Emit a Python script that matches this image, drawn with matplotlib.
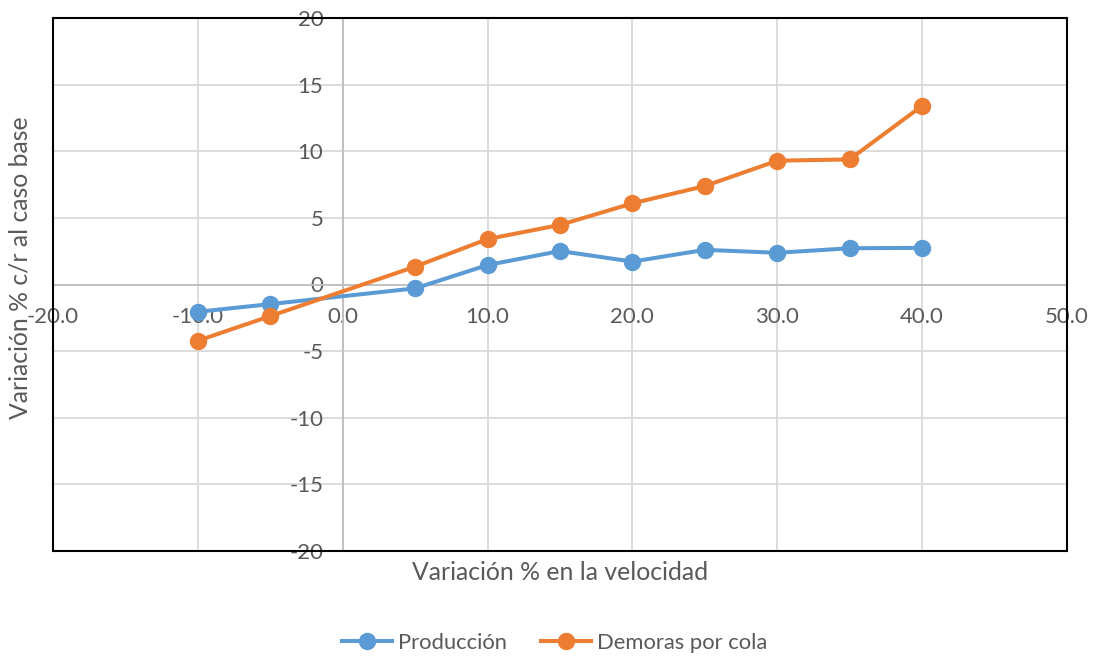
import matplotlib.pyplot as plt
from matplotlib.patches import Rectangle
from matplotlib.ticker import FormatStrFormatter, MultipleLocator

plt.rcParams['font.family'] = ['Lato', 'DejaVu Sans']
plt.rcParams['axes.unicode_minus'] = False

# datos
velocidad = [-10, -5, 5, 10, 15, 20, 25, 30, 35, 40]
produccion = [-2.05, -1.47, -0.29, 1.46, 2.51, 1.72, 2.6, 2.38, 2.72, 2.75]
demoras = [-4.22, -2.37, 1.34, 3.41, 4.47, 6.09, 7.39, 9.29, 9.39, 13.41]

azul = '#5B9BD5'
naranja = '#ED7D31'
gris_txt = '#595959'

fig = plt.figure(figsize=(10.95, 6.56), dpi=100)
ax = fig.add_axes([53/1095, 1 - 551/656, (1067-53)/1095, (551-18)/656])

ax.plot(velocidad, produccion, '-o', color=azul, lw=2.9, ms=11.5,
        label='Producción', zorder=3, clip_on=False)
ax.plot(velocidad, demoras, '-o', color=naranja, lw=2.9, ms=11.5,
        label='Demoras por cola', zorder=3, clip_on=False)

ax.set_xlim(-20, 50)
ax.set_ylim(-20, 20)
ax.xaxis.set_major_locator(MultipleLocator(10))
ax.yaxis.set_major_locator(MultipleLocator(5))
ax.xaxis.set_major_formatter(FormatStrFormatter('%.1f'))
ax.grid(True, color='#d9d9d9', lw=1.3)
ax.set_axisbelow(True)

# ejes cruzando en el origen
for s in ['top', 'right']:
    ax.spines[s].set_visible(False)
ax.spines['left'].set_position(('data', 0))
ax.spines['bottom'].set_position(('data', 0))
ax.spines['left'].set_color('#bfbfbf')
ax.spines['bottom'].set_color('#bfbfbf')
ax.spines['left'].set_linewidth(1.3)
ax.spines['bottom'].set_linewidth(1.3)
ax.tick_params(length=0, labelsize=16, labelcolor=gris_txt)
ax.tick_params(axis='y', pad=14)
ax.tick_params(axis='x', pad=16.5)

# marco exterior
ax.add_patch(Rectangle((0, 0), 1, 1, transform=ax.transAxes, fill=False,
                       ec='black', lw=1.5, zorder=5, clip_on=False))

fig.text(560/1095, 1 - 573/656, 'Variación % en la velocidad', ha='center',
         va='center', fontsize=17.8, color=gris_txt)
fig.text(20/1095, 1 - 268/656, 'Variación % c/r al caso base', ha='center',
         va='center', rotation=90, fontsize=17.8, color=gris_txt)

fig.legend(loc='center', bbox_to_anchor=(555/1095, 1 - 643/656), ncol=2,
           frameon=False, fontsize=15.8, handlelength=2.25, columnspacing=1.55,
           handletextpad=0.3, labelcolor=gris_txt)

fig.savefig('out.png', dpi=100)
